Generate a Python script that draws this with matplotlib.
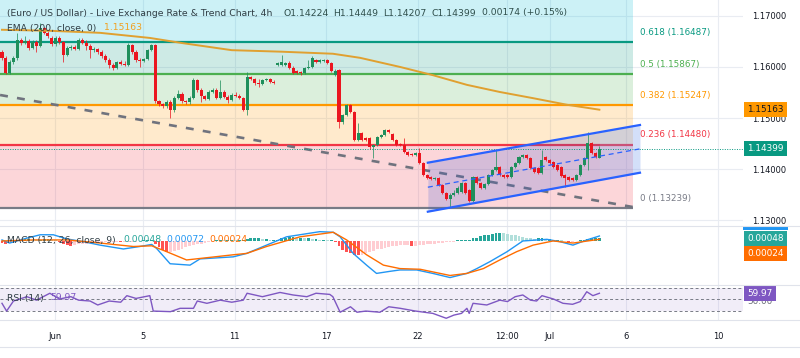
import numpy as np
import matplotlib
matplotlib.use("Agg")
import matplotlib.pyplot as plt
from matplotlib.transforms import blended_transform_factory
from matplotlib.lines import Line2D
from matplotlib.patches import Rectangle

# EUR/USD 4h candles
opens = [
    1.1630, 1.1618, 1.1588, 1.1610, 1.1618, 1.1653, 1.1647, 1.1651, 1.1637, 1.1649,
    1.1641, 1.1677, 1.1667, 1.1657, 1.1645, 1.1657, 1.1649, 1.1624, 1.1637, 1.1639,
    1.1635, 1.1653, 1.1647, 1.1641, 1.1633, 1.1635, 1.1630, 1.1622, 1.1614, 1.1604,
    1.1598, 1.1610, 1.1606, 1.1604, 1.1643, 1.1630, 1.1614, 1.1612, 1.1616, 1.1633,
    1.1643, 1.1533, 1.1528, 1.1524, 1.1532, 1.1516, 1.1539, 1.1547, 1.1533, 1.1532,
    1.1539, 1.1575, 1.1555, 1.1543, 1.1537, 1.1551, 1.1555, 1.1539, 1.1551, 1.1541,
    1.1535, 1.1545, 1.1543, 1.1539, 1.1516, 1.1580, 1.1577, 1.1569, 1.1567, 1.1575,
    1.1577, 1.1571, 1.1604, 1.1604, 1.1604, 1.1608, 1.1598, 1.1592, 1.1590, 1.1588,
    1.1598, 1.1600, 1.1614, 1.1610, 1.1612, 1.1614, 1.1608, 1.1584, 1.1594, 1.1492,
    1.1506, 1.1526, 1.1512, 1.1457, 1.1471, 1.1461, 1.1461, 1.1443, 1.1447, 1.1463,
    1.1467, 1.1477, 1.1469, 1.1457, 1.1449, 1.1447, 1.1433, 1.1430, 1.1428, 1.1432,
    1.1412, 1.1388, 1.1385, 1.1381, 1.1383, 1.1369, 1.1353, 1.1341, 1.1349, 1.1353,
    1.1355, 1.1373, 1.1359, 1.1337, 1.1385, 1.1373, 1.1363, 1.1371, 1.1388, 1.1398,
    1.1404, 1.1388, 1.1388, 1.1385, 1.1404, 1.1412, 1.1424, 1.1428, 1.1422, 1.1402,
    1.1402, 1.1392, 1.1424, 1.1418, 1.1414, 1.1408, 1.1404, 1.1388, 1.1385, 1.1383,
    1.1379, 1.1388, 1.1408, 1.1420, 1.1451, 1.1432, 1.14224]
highs = [
    1.1633, 1.1622, 1.1614, 1.1622, 1.1667, 1.1657, 1.1661, 1.1655, 1.1653, 1.1653,
    1.1686, 1.1679, 1.1671, 1.1661, 1.1661, 1.1661, 1.1651, 1.1641, 1.1643, 1.1643,
    1.1657, 1.1657, 1.1653, 1.1645, 1.1639, 1.1637, 1.1633, 1.1626, 1.1618, 1.1608,
    1.1612, 1.1614, 1.1612, 1.1647, 1.1645, 1.1633, 1.1618, 1.1618, 1.1635, 1.1645,
    1.1645, 1.1535, 1.1530, 1.1535, 1.1535, 1.1543, 1.1555, 1.1551, 1.1535, 1.1543,
    1.1579, 1.1577, 1.1559, 1.1545, 1.1555, 1.1559, 1.1559, 1.1575, 1.1555, 1.1545,
    1.1549, 1.1551, 1.1547, 1.1541, 1.1590, 1.1582, 1.1579, 1.1577, 1.1577, 1.1579,
    1.1579, 1.1575, 1.1610, 1.1624, 1.1610, 1.1612, 1.1602, 1.1594, 1.1592, 1.1600,
    1.1614, 1.1622, 1.1616, 1.1616, 1.1616, 1.1616, 1.1610, 1.1596, 1.1596, 1.1508,
    1.1528, 1.1528, 1.1514, 1.1490, 1.1473, 1.1463, 1.1463, 1.1449, 1.1465, 1.1469,
    1.1479, 1.1479, 1.1471, 1.1459, 1.1451, 1.1461, 1.1435, 1.1432, 1.1433, 1.1441,
    1.1414, 1.1390, 1.1386, 1.1385, 1.1385, 1.1371, 1.1355, 1.1353, 1.1359, 1.1367,
    1.1375, 1.1375, 1.1361, 1.1386, 1.1386, 1.1375, 1.1373, 1.1390, 1.1400, 1.1437,
    1.1406, 1.1390, 1.1390, 1.1406, 1.1414, 1.1426, 1.1430, 1.1430, 1.1424, 1.1404,
    1.1404, 1.1437, 1.1426, 1.1420, 1.1416, 1.1410, 1.1406, 1.1390, 1.1386, 1.1385,
    1.1390, 1.1410, 1.1424, 1.1473, 1.1453, 1.1433, 1.14449]
lows = [
    1.1614, 1.1586, 1.1586, 1.1606, 1.1614, 1.1643, 1.1645, 1.1633, 1.1635, 1.1630,
    1.1639, 1.1665, 1.1657, 1.1641, 1.1641, 1.1645, 1.1610, 1.1622, 1.1633, 1.1633,
    1.1633, 1.1645, 1.1633, 1.1618, 1.1630, 1.1626, 1.1618, 1.1610, 1.1598, 1.1594,
    1.1596, 1.1604, 1.1602, 1.1602, 1.1626, 1.1610, 1.1600, 1.1610, 1.1614, 1.1631,
    1.1530, 1.1524, 1.1520, 1.1520, 1.1500, 1.1512, 1.1537, 1.1530, 1.1528, 1.1528,
    1.1537, 1.1551, 1.1532, 1.1535, 1.1535, 1.1549, 1.1537, 1.1537, 1.1539, 1.1530,
    1.1533, 1.1541, 1.1537, 1.1514, 1.1506, 1.1575, 1.1565, 1.1561, 1.1565, 1.1573,
    1.1569, 1.1567, 1.1602, 1.1602, 1.1602, 1.1596, 1.1586, 1.1586, 1.1584, 1.1586,
    1.1596, 1.1598, 1.1608, 1.1608, 1.1610, 1.1606, 1.1590, 1.1582, 1.1481, 1.1488,
    1.1504, 1.1510, 1.1455, 1.1455, 1.1455, 1.1455, 1.1439, 1.1422, 1.1445, 1.1461,
    1.1465, 1.1471, 1.1455, 1.1445, 1.1445, 1.1432, 1.1426, 1.1426, 1.1426, 1.1410,
    1.1386, 1.1381, 1.1379, 1.1379, 1.1367, 1.1351, 1.1339, 1.1326, 1.1347, 1.1351,
    1.1353, 1.1351, 1.1336, 1.1336, 1.1371, 1.1361, 1.1361, 1.1369, 1.1386, 1.1396,
    1.1386, 1.1383, 1.1383, 1.1383, 1.1402, 1.1410, 1.1422, 1.1420, 1.1400, 1.1392,
    1.1390, 1.1390, 1.1416, 1.1410, 1.1402, 1.1396, 1.1385, 1.1365, 1.1377, 1.1377,
    1.1377, 1.1386, 1.1406, 1.1398, 1.1430, 1.1422, 1.14207]
closes = [
    1.1618, 1.1588, 1.1610, 1.1618, 1.1653, 1.1647, 1.1651, 1.1637, 1.1649, 1.1641,
    1.1677, 1.1667, 1.1661, 1.1645, 1.1657, 1.1649, 1.1624, 1.1637, 1.1639, 1.1635,
    1.1653, 1.1647, 1.1641, 1.1633, 1.1635, 1.1630, 1.1622, 1.1614, 1.1604, 1.1598,
    1.1610, 1.1606, 1.1604, 1.1643, 1.1630, 1.1614, 1.1612, 1.1616, 1.1633, 1.1643,
    1.1533, 1.1528, 1.1524, 1.1532, 1.1516, 1.1539, 1.1547, 1.1533, 1.1532, 1.1539,
    1.1575, 1.1555, 1.1543, 1.1537, 1.1551, 1.1555, 1.1539, 1.1551, 1.1541, 1.1535,
    1.1545, 1.1543, 1.1539, 1.1516, 1.1580, 1.1577, 1.1569, 1.1567, 1.1575, 1.1577,
    1.1571, 1.1569, 1.1608, 1.1610, 1.1608, 1.1598, 1.1588, 1.1588, 1.1588, 1.1598,
    1.1600, 1.1618, 1.1610, 1.1614, 1.1614, 1.1608, 1.1592, 1.1592, 1.1492, 1.1506,
    1.1526, 1.1512, 1.1457, 1.1471, 1.1457, 1.1457, 1.1443, 1.1447, 1.1463, 1.1467,
    1.1477, 1.1473, 1.1457, 1.1447, 1.1447, 1.1433, 1.1428, 1.1428, 1.1432, 1.1412,
    1.1388, 1.1383, 1.1381, 1.1383, 1.1369, 1.1353, 1.1341, 1.1349, 1.1353, 1.1363,
    1.1373, 1.1353, 1.1337, 1.1385, 1.1373, 1.1363, 1.1371, 1.1388, 1.1398, 1.1404,
    1.1388, 1.1385, 1.1385, 1.1404, 1.1412, 1.1424, 1.1428, 1.1422, 1.1402, 1.1394,
    1.1392, 1.1418, 1.1418, 1.1412, 1.1404, 1.1398, 1.1386, 1.1383, 1.1379, 1.1379,
    1.1388, 1.1408, 1.1422, 1.1451, 1.1432, 1.1424, 1.14399]

# EMA 200 (bar index, value)
ema_x = [0, 12.5, 25.6, 38.6, 47, 60, 73, 86.4, 93.5, 104, 112.5, 121.4, 130, 138.6, 147.5, 156]
ema_v = [1.1673, 1.1671, 1.1667, 1.1657, 1.1647, 1.1633, 1.1630, 1.1626, 1.1618, 1.1600,
         1.1584, 1.1565, 1.1551, 1.1539, 1.1526, 1.15163]

# drawings
fib_ratio = [0.618, 0.5, 0.382, 0.236, 0]
fib_price = [1.16487, 1.15867, 1.15247, 1.14480, 1.13239]
fib_color = ['#089981', '#4caf50', '#ff9800', '#f23645', '#787b86']
fib_top_color = '#00bcd4'
fib_end = 164.7

trend_x = [-0.5, 164.7]
trend_v = [1.15451, 1.13255]

chan_x = [111.2, 166.6]
chan_up = [1.14124, 1.14863]
chan_mid = [1.13643, 1.14395]
chan_lo = [1.13163, 1.13927]

last_price = 1.14399
ema_last = 1.15163

# MACD (12, 26, close, 9)
macd_x = [0, 2, 6.4, 10, 13.4, 16.9, 21.2, 25.6, 31.7, 36, 39.1, 40.4, 43.9, 49.1, 51.7,
          60.4, 63.9, 69.1, 74.3, 83, 86.5, 88.3, 91.7, 95.2, 97.8, 101.3, 103.9, 108.3,
          112.5, 117, 121.4, 124, 127.4, 131.9, 136, 142.3, 145.7, 149.1, 152.7, 156]
macd_v = [0.00015, -0.0003, 0.0004, 0.0009, 0.0009, 0.0003, -0.0001, -0.0006, -0.00116,
          -0.0008, -0.0005, -0.0011, -0.0033, -0.0035, -0.0026, -0.0023, -0.0018, -0.0006,
          0.0006, 0.00135, 0.00126, 0.0006, -0.0018, -0.0035, -0.0047, -0.0044, -0.0042,
          -0.0042, -0.0047, -0.0053, -0.0047, -0.0040, -0.0030, -0.00155, 0.0, 0.00024,
          -0.0001, -0.0006, 0.00015, 0.00072]
sig_x = [0, 8.2, 17, 25.6, 34.3, 39.1, 43, 48.2, 60.4, 63.9, 69.1, 77.8, 86.5, 90, 95.2,
         99.6, 103.9, 109.2, 117, 121.4, 125.7, 130, 134.4, 138.7, 143.9, 149.1, 156]
sig_v = [0.0, 0.00015, 0.00015, -0.0003, -0.0008, -0.0007, -0.00155, -0.00275, -0.0020,
         -0.0018, -0.0008, 0.0006, 0.00126, 0.00015, -0.0020, -0.0035, -0.0040, -0.0041,
         -0.0050, -0.0047, -0.0040, -0.00275, -0.00155, -0.0006, 0.0, -0.0003, 0.00024]
macd_hist = [
    -0.0003, -0.0004, -0.0003, -0.0002, 0.0001, 0.0002, 0.0003, 0.0003, 0.0002, 0.0001,
    0.0002, 0.0003, 0.0003, 0.0002, 0.0001, -0.0002, -0.0004, -0.0006, -0.0007, -0.0006,
    -0.0005, -0.0004, -0.0004, -0.0003, -0.0003, -0.0003, -0.0002, -0.0002, -0.0002, -0.0001,
    -0.0001, -0.0002, -0.0002, -0.0001, -0.0001, -0.0001, 0.0, 0.0001, 0.0001, 0.0001,
    -0.0004, -0.0009, -0.0013, -0.0016, -0.0016, -0.0015, -0.0013, -0.0011, -0.0009, -0.0008,
    -0.0006, -0.0005, -0.0004, -0.0003, -0.0002, -0.0001, 0.0001, 0.0002, 0.0001, 0.0001,
    0.0002, 0.0001, 0.0001, 0.0002, 0.0003, 0.0004, 0.0004, 0.0004, 0.0003, 0.0003,
    0.0002, 0.0002, 0.0002, 0.0004, 0.0005, 0.0006, 0.0006, 0.0005, 0.0005, 0.0004,
    0.0004, 0.0003, 0.0003, 0.0002, 0.0002, 0.0001, 0.0001, -0.0002, -0.0008, -0.0013,
    -0.0016, -0.0018, -0.0020, -0.0021, -0.0020, -0.0018, -0.0016, -0.0014, -0.0012, -0.0011,
    -0.0010, -0.0009, -0.0008, -0.0007, -0.0006, -0.0006, -0.0006, -0.0007, -0.0007, -0.0006,
    -0.0006, -0.0005, -0.0005, -0.0004, -0.0003, -0.0003, -0.0002, -0.0001, -0.0001, 0.0001,
    0.0001, 0.0001, 0.0002, 0.0004, 0.0005, 0.0007, 0.0008, 0.0009, 0.0010, 0.0011,
    0.0012, 0.0011, 0.0010, 0.0009, 0.0008, 0.0007, 0.0006, 0.0005, 0.0004, 0.0003,
    0.0004, 0.0004, 0.0003, 0.0003, 0.0002, 0.0002, 0.0001, 0.0, -0.0001, -0.0001,
    0.0, 0.0001, 0.0002, 0.0003, 0.0004, 0.0004, 0.00048]

# RSI (14)
rsi_x = [0, 1.2, 3, 6.5, 9, 12.5, 15, 18, 20, 23, 25, 28, 31, 32.6, 35, 38.6, 39.5, 44,
         46.5, 50, 51, 53.5, 57, 60, 63, 64, 68, 72.6, 76, 79.6, 82, 85.6, 86.4, 88.3, 91,
         92.7, 95, 98.7, 101, 104, 108, 112.5, 116, 118, 120, 121.4, 122, 123, 126.6, 130,
         132, 134, 136, 138, 139.6, 141, 144, 146.5, 149, 151, 152.7, 154.3, 156]
rsi_v = [42.5, 29, 46.5, 54, 48, 60, 50, 54, 48, 46.5, 39.6, 46.5, 44.4, 55.8, 51, 55.8,
         29, 28, 33.8, 33.8, 46.5, 42.5, 48, 44.4, 48, 60, 54, 61.4, 57, 54, 60, 58, 54, 27,
         36.5, 27, 29, 27, 36.5, 33.8, 29, 25, 16.5, 22, 25, 33.8, 25, 42.5, 39.6, 48, 45.5,
         54, 57, 48, 46.5, 55.8, 50, 42.5, 40.8, 45.5, 62.6, 55.8, 59.97]

tick_pos = [13.8, 36.8, 60.8, 84.6, 108.6, 131.9, 143.1, 162.9, 187.0]
tick_lbl = ['Jun', '5', '11', '17', '22', '12:00', 'Jul', '6', '10']
price_ticks = [1.13, 1.14, 1.15, 1.16, 1.17]

UP, DOWN = '#1f8f5c', '#eb1620'
TXT = '#131722'
GRID = '#e9ecf2'
FS = 6.0

W, H = 800, 358
fig = plt.figure(figsize=(8, 3.58), dpi=100)
fig.patch.set_facecolor('white')


def rect(top, bottom):
    return [0, 1 - bottom / H, 743 / W, (bottom - top) / H]


XL = (-0.52, 193.5)

ax = fig.add_axes(rect(0, 226))
ax_m = fig.add_axes(rect(226, 285))
ax_r = fig.add_axes(rect(285, 320))

for a in (ax, ax_m, ax_r):
    a.set_xlim(*XL)
    for s in a.spines.values():
        s.set_visible(False)
    a.set_xticks(tick_pos)
    a.grid(axis='x', color=GRID, lw=0.8, zorder=0)
    a.set_axisbelow(True)
    a.tick_params(length=0, labelsize=FS, colors=TXT)
ax.tick_params(labelbottom=False)
ax_m.tick_params(labelbottom=False)
ax_m.set_yticks([])
ax_r.set_yticks([])
ax_r.set_xticklabels(tick_lbl)
ax_r.tick_params(axis='x', pad=8.3)

# ---- main pane ----
ax.set_ylim(1.128824, 1.173137)
ax.yaxis.tick_right()
ax.set_yticks(price_ticks)
ax.set_yticklabels(['%.5f' % p for p in price_ticks])
ax.tick_params(axis='y', pad=6.5)
ax.grid(axis='y', color=GRID, lw=0.8, zorder=0)

# fib zones and levels
ytop = ax.get_ylim()[1]
ax.fill_between([XL[0], fib_end], fib_price[0], ytop, color=fib_top_color, alpha=0.2, lw=0, zorder=1)
for k in range(1, len(fib_price)):
    ax.fill_between([XL[0], fib_end], fib_price[k], fib_price[k - 1],
                    color=fib_color[k - 1], alpha=0.2, lw=0, zorder=1)
for r, p, c in zip(fib_ratio, fib_price, fib_color):
    ax.plot([XL[0], fib_end], [p, p], color=c, lw=1.6, zorder=2, solid_capstyle='butt')
    ax.annotate('%s (%.5f)' % (('%g' % r), p), xy=(fib_end, p), xytext=(5, 7),
                textcoords='offset points', va='center', ha='left', fontsize=FS + 0.3,
                color=c, annotation_clip=False)

# trend line, EMA
ax.plot(trend_x, trend_v, color='#70737e', lw=1.9, dashes=(3, 3.5), zorder=3)
ax.plot(ema_x, ema_v, color='#e0a030', lw=1.4, zorder=6)

# regression channel
xi = np.array([chan_x[0], len(closes) - 1, chan_x[1]])
up_i = np.interp(xi, chan_x, chan_up)
lo_i = np.interp(xi, chan_x, chan_lo)
ax.fill_between(xi[:2], lo_i[:2], up_i[:2], color='#3a58d8', alpha=0.2, lw=0, zorder=3)
ax.fill_between(xi[1:], lo_i[1:], up_i[1:], color='#6f95ee', alpha=0.3, lw=0, zorder=3)
ax.plot(chan_x, chan_up, color='#2962ff', lw=1.6, zorder=7)
ax.plot(chan_x, chan_lo, color='#2962ff', lw=1.6, zorder=7)
ax.plot(chan_x, chan_mid, color='#2962ff', lw=0.9, dashes=(4, 3), zorder=7)

# candles
o = np.array(opens); c = np.array(closes)
hi = np.array(highs); lo = np.array(lows)
idx = np.arange(len(c))
cols = np.where(c >= o, UP, DOWN)
ax.vlines(idx, lo, hi, colors=cols, lw=0.7, zorder=5, alpha=0.75)
body = np.where(np.abs(c - o) < 0.00006, 0.00006, np.abs(c - o))
ax.bar(idx, body, bottom=np.minimum(o, c), width=0.8, color=cols, lw=0, zorder=5)

ax.axhline(last_price, color='#089981', lw=0.7, ls=(0, (1, 1.5)), zorder=4)


def tag(a, y, text, fc, tc, x=1.0):
    t = blended_transform_factory(a.transAxes, a.transData)
    a.annotate(text, xy=(x, y), xycoords=t, xytext=(3.2, 0), textcoords='offset points',
               ha='left', va='center', fontsize=FS + 0.4, color=tc, annotation_clip=False,
               bbox=dict(boxstyle='square,pad=0.34', fc=fc, ec='none'), zorder=10)


tag(ax, ema_last, '%.5f' % ema_last, '#ff9800', '#131722')
tag(ax, last_price, '%.5f' % last_price, '#089981', 'white')


# header texts
def ftext(x, y, s, color, size=FS + 0.7):
    fig.text(x / W, 1 - y / H, s, color=color, fontsize=size, ha='left', va='center')


ftext(7, 13, '(Euro / US Dollar) - Live Exchange Rate & Trend Chart, 4h', '#2f3d44')
for xx, s in [(284, 'O1.14224'), (333, 'H1.14449'), (383, 'L1.14207'),
              (432, 'C1.14399'), (482, '0.00174 (+0.15%)')]:
    ftext(xx, 13, s, '#2f4f4c')
ftext(7, 28, 'EMA (200, close, 0)', '#2f3d44')
ftext(104, 28, '%.5f' % ema_last, '#f0a020')

# ---- MACD pane ----
ax_m.set_ylim(-0.00638, 0.00217)
h = np.array(macd_hist)
hcol = []
for k, v in enumerate(h):
    prev = h[k - 1] if k > 0 else 0
    if v >= 0:
        hcol.append('#26a69a' if v >= prev else '#b2dfdb')
    else:
        hcol.append('#ff5252' if v < prev else '#ffcdd2')
ax_m.bar(np.arange(len(h)), h, width=0.75, color=hcol, lw=0, zorder=2)
ax_m.plot(macd_x, macd_v, color='#2196f3', lw=1.0, zorder=3)
ax_m.plot(sig_x, sig_v, color='#ff6d00', lw=1.0, zorder=3)
ftext(7, 240, 'MACD (12, 26, close, 9)', '#2f3d44')
ftext(123, 240, '%.5f' % macd_hist[-1], '#26a69a')
ftext(166, 240, '%.5f' % macd_v[-1], '#2196f3')
ftext(209, 240, '%.5f' % sig_v[-1], '#ff6d00')
tag(ax_m, 0.00036, '%.5f' % macd_hist[-1], '#26a69a', 'white')
tag(ax_m, -0.00188, '%.5f' % sig_v[-1], '#ff6d00', 'white')
fig.add_artist(Rectangle((743 / W, 1 - 230 / H), 45 / W, 4 / H, transform=fig.transFigure,
                         fc='#2196f3', ec='none'))

# ---- RSI pane ----
ax_r.set_ylim(13.48, 74.35)
ax_r.axhspan(30, 70, color='#7e57c2', alpha=0.1, lw=0, zorder=1)
for lvl in (70, 50, 30):
    ax_r.axhline(lvl, color='#787b86', lw=0.7, dashes=(3, 2.5), zorder=2)
ax_r.plot(rsi_x, rsi_v, color='#7e57c2', lw=1.0, zorder=3)
ftext(7, 298, 'RSI (14)', '#2f3d44')
ftext(50, 298, '%.2f' % rsi_v[-1], '#7e57c2')
ax_r.annotate('50.00', xy=(1.0, 50), xycoords=blended_transform_factory(ax_r.transAxes, ax_r.transData),
              xytext=(3.2, -2), textcoords='offset points', ha='left', va='center',
              fontsize=FS + 0.4, color='#6a6d78', annotation_clip=False)
tag(ax_r, rsi_v[-1], '%.2f' % rsi_v[-1], '#7e57c2', 'white')

# pane separators
for yy in (226, 285, 320, 347):
    fig.add_artist(Line2D([0, 1], [1 - yy / H] * 2, transform=fig.transFigure,
                          color='#e0e3eb', lw=0.8))

fig.savefig('out.png', dpi=100)
